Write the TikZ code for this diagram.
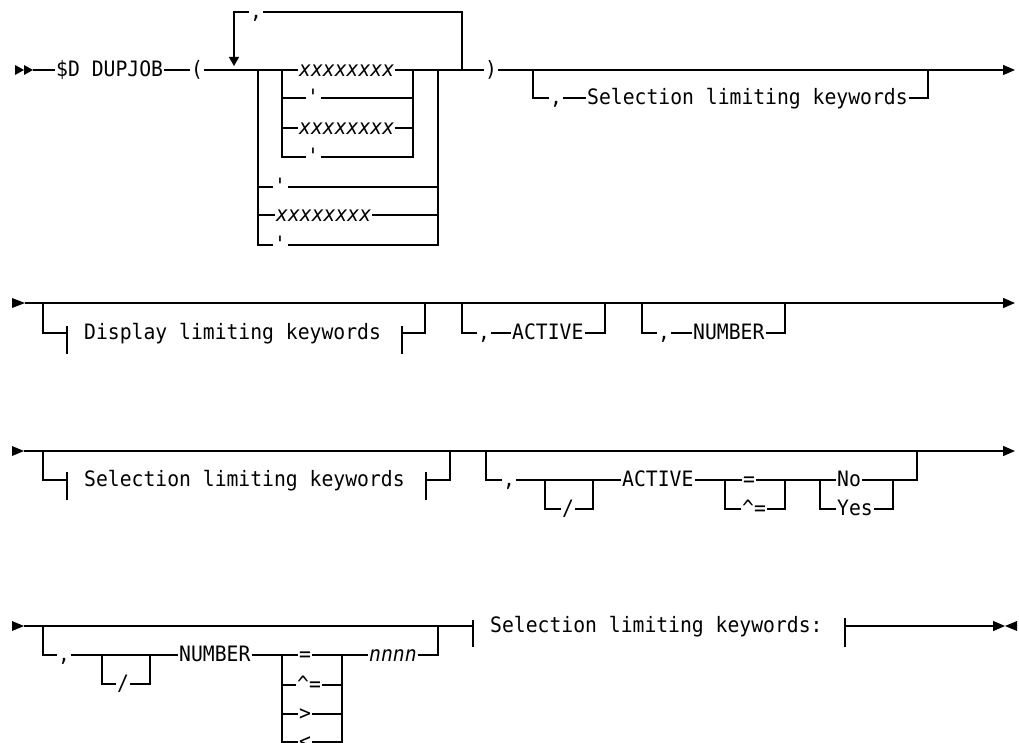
\documentclass[tikz,border=0pt]{standalone}
\usepackage{fontspec}
\setmonofont{DejaVu Sans Mono}[FakeStretch=0.93]
\usetikzlibrary{arrows.meta}
\tikzset{
  rr/.style={line width=1.3pt},
  kw/.style={font=\ttfamily\fontsize{21.2}{24}\selectfont, inner xsep=1pt, inner ysep=0pt, text height=13pt, text depth=0pt, anchor=west},
  var/.style={kw, font=\ttfamily\itshape\fontsize{21.2}{24}\selectfont},
  endarrow/.style={-{Triangle[length=12pt,width=10pt]}},
}
\begin{document}
\begin{tikzpicture}[x=1pt,y=-1pt]
\useasboundingbox (0,0) rectangle (1019,743);
% ================= Row 1 =================
\fill (15,65)--(24,70)--(15,75)--cycle;
\fill (24,65)--(33,70)--(24,75)--cycle;
\coordinate (s1) at (33,70);
\node[kw] (dupjob) at (55,70) {\$D DUPJOB};
\node[kw] (lp) at (190,70) {(};
\node[var] (x1) at (298,70) {xxxxxxxx};
\node[kw] (rp) at (484,70) {)};
\coordinate (e1) at (1015,70);
\draw[rr] (s1) -- (dupjob.west);
\draw[rr] (dupjob.east) -- (lp.west);
\draw[rr] (lp.east) -- (x1.west);
\draw[rr] (x1.east) -- (rp.west);
\draw[rr,endarrow] (rp.east) -- (e1);
% repeat loop
\coordinate (lpR) at (462,70);
\coordinate (lpL) at (234,66);
\node[kw] (rc) at (249,12) {,};
\draw[rr] (lpR) |- (rc.east);
\draw[rr,-{Triangle[length=9pt,width=10pt]}] (rc.west) -| (lpL);
% inner block
\coordinate (ia) at (282,70); \coordinate (ib) at (413,70);
\node[kw] (i2) at (306,98) {\textquotesingle};
\node[var] (i3) at (298,128) {xxxxxxxx};
\node[kw] (i4) at (306,157) {\textquotesingle};
\draw[rr] (ia) |- (i4.west);
\draw[rr] (ia |- i2.west) -- (i2.west);
\draw[rr] (ia |- i3.west) -- (i3.west);
\draw[rr] (i2.east) -- (ib |- i2.east);
\draw[rr] (i3.east) -- (ib |- i3.east);
\draw[rr] (i4.east) -| (ib);
% outer block
\coordinate (oa) at (258,70); \coordinate (ob) at (438,70);
\node[kw] (o1) at (273,187) {\textquotesingle};
\node[var] (o2) at (275,215) {xxxxxxxx};
\node[kw] (o3) at (273,245) {\textquotesingle};
\draw[rr] (oa) |- (o3.west);
\draw[rr] (oa |- o1.west) -- (o1.west);
\draw[rr] (oa |- o2.west) -- (o2.west);
\draw[rr] (o1.east) -- (ob |- o1.east);
\draw[rr] (o2.east) -- (ob |- o2.east);
\draw[rr] (o3.east) -| (ob);
% optional selection keywords
\coordinate (a1) at (533,70); \coordinate (b1) at (928,70);
\node[kw] (c1) at (549,98) {,};
\node[kw] (sel1) at (586,98) {Selection limiting keywords};
\draw[rr] (a1) |- (c1.west);
\draw[rr] (c1.east) -- (sel1.west);
\draw[rr] (sel1.east) -| (b1);
% ================= Row 2 =================
\fill (12,298)--(25,303)--(12,308)--cycle;
\coordinate (s2) at (25,303); \coordinate (e2) at (1015,303);
\draw[rr,endarrow] (s2) -- (e2);
\coordinate (d0) at (43,303); \coordinate (d1) at (67,333);
\coordinate (d2) at (402,333); \coordinate (d3) at (425,303);
\node[kw] (disp) at (83,333) {Display limiting keywords};
\draw[rr] (d0) |- (d1);
\draw[rr] (67,326) -- (67,354);
\draw[rr] (402,326) -- (402,354);
\draw[rr] (d2) -| (d3);
\coordinate (a2) at (462,303); \coordinate (b2) at (605,303);
\node[kw] (c2) at (477,333) {,};
\node[kw] (act1) at (511,333) {ACTIVE};
\draw[rr] (a2) |- (c2.west);
\draw[rr] (c2.east) -- (act1.west);
\draw[rr] (act1.east) -| (b2);
\coordinate (a3) at (642,303); \coordinate (b3) at (785,303);
\node[kw] (c3) at (657,333) {,};
\node[kw] (num1) at (692,333) {NUMBER};
\draw[rr] (a3) |- (c3.west);
\draw[rr] (c3.east) -- (num1.west);
\draw[rr] (num1.east) -| (b3);
% ================= Row 3 =================
\fill (12,446)--(24,451)--(12,456)--cycle;
\coordinate (s3) at (24,451); \coordinate (e3) at (1015,451);
\draw[rr,endarrow] (s3) -- (e3);
\coordinate (f0) at (43,451); \coordinate (f1) at (67,480);
\coordinate (f2) at (426,480); \coordinate (f3) at (450,451);
\node[kw] (sel2) at (83,480) {Selection limiting keywords};
\draw[rr] (f0) |- (f1);
\draw[rr] (67,472) -- (67,500);
\draw[rr] (426,472) -- (426,500);
\draw[rr] (f2) -| (f3);
\coordinate (a4) at (486,451); \coordinate (b4) at (917,451);
\node[kw] (c4) at (502,480) {,};
\coordinate (sl1a) at (545,480); \coordinate (sl1b) at (593,480);
\node[kw] (sl1) at (561,509) {/};
\node[kw] (act2) at (621,480) {ACTIVE};
\coordinate (eqa) at (725,480); \coordinate (eqb) at (785,480);
\node[kw] (eq1) at (742,480) {=};
\node[kw] (ne1) at (741,509) {\textasciicircum=};
\coordinate (yna) at (820,480); \coordinate (ynb) at (893,480);
\node[kw] (no) at (836,480) {No};
\node[kw] (yes) at (836,509) {Yes};
\draw[rr] (a4) |- (c4.west);
\draw[rr] (c4.east) -- (sl1b) -- (act2.west);
\draw[rr] (sl1a) |- (sl1.west);
\draw[rr] (sl1.east) -| (sl1b);
\draw[rr] (act2.east) -- (eq1.west);
\draw[rr] (eq1.east) -- (no.west);
\draw[rr] (eqa) |- (ne1.west);
\draw[rr] (ne1.east) -| (eqb);
\draw[rr] (no.east) -- (ynb) -| (b4);
\draw[rr] (yna) |- (yes.west);
\draw[rr] (yes.east) -| (ynb);
% ================= Row 4 =================
\fill (12,621)--(24,626)--(12,631)--cycle;
\coordinate (s4) at (24,626); \coordinate (t4a) at (473,626);
\draw[rr] (s4) -- (t4a);
\draw[rr] (473,620) -- (473,647);
\node[kw] (selk) at (489,626) {Selection limiting keywords:};
\coordinate (t4b) at (845,626); \coordinate (e4) at (1005,626);
\draw[rr] (845,618) -- (845,647);
\draw[rr,endarrow] (t4b) -- (e4);
\fill (1017,621)--(1005,626)--(1017,631)--cycle;
\coordinate (a5) at (43,626); \coordinate (b5) at (438,626);
\node[kw] (c5) at (57,655) {,};
\coordinate (sl2a) at (102,655); \coordinate (sl2b) at (150,655);
\node[kw] (sl2) at (116,684) {/};
\node[kw] (num2) at (178,655) {NUMBER};
\coordinate (opa) at (282,655); \coordinate (opb) at (342,655);
\node[kw] (op1) at (298,655) {=};
\node[kw] (op2) at (296,685) {\textasciicircum=};
\node[kw] (op3) at (298,714) {>};
\node[kw] (op4) at (298,742) {<};
\node[var] (nnnn) at (368,655) {nnnn};
\draw[rr] (a5) |- (c5.west);
\draw[rr] (c5.east) -- (sl2b) -- (num2.west);
\draw[rr] (sl2a) |- (sl2.west);
\draw[rr] (sl2.east) -| (sl2b);
\draw[rr] (num2.east) -- (op1.west);
\draw[rr] (op1.east) -- (nnnn.west);
\draw[rr] (nnnn.east) -| (b5);
\draw[rr] (opa) |- (op4.west);
\draw[rr] (opa |- op2.west) -- (op2.west);
\draw[rr] (opa |- op3.west) -- (op3.west);
\draw[rr] (op4.east) -| (opb);
\draw[rr] (op2.east) -- (opb |- op2.east);
\draw[rr] (op3.east) -- (opb |- op3.east);
\end{tikzpicture}
\end{document}
